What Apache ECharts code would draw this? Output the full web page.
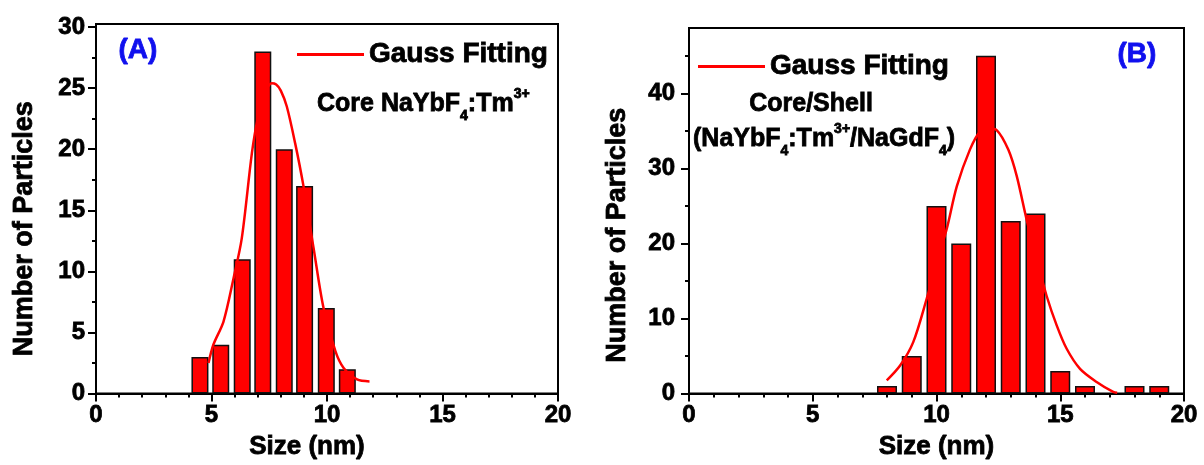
<!DOCTYPE html>
<html>
<head>
<meta charset="utf-8">
<script src="https://cdn.jsdelivr.net/npm/echarts@6/dist/echarts.min.js"></script>
<style>
  html, body { margin: 0; padding: 0; background: #fff; }
  #chart { width: 1204px; height: 465px; }
</style>
</head>
<body>
<div id="chart"></div>
<script>
// (A) core particles: bin centres (nm) and counts
var sizeA = [4.5, 5.4, 6.33, 7.22, 8.15, 9.03, 9.97, 10.88];
var countA = [3, 4, 11, 28, 20, 17, 7, 2];
// gauss fit curve
var fitA = [[4.87, 2.5], [5.08, 4.0], [5.52, 5.9], [5.95, 9.4], [6.31, 12.7], [6.75, 19.7],
  [7.0, 22.5], [7.3, 24.5], [7.6, 25.4], [7.8, 25.3], [8.0, 24.8], [8.26, 23.5], [8.62, 20.5],
  [8.98, 17], [9.42, 11.9], [9.85, 7], [10.36, 3.5], [10.72, 2.1], [11.3, 1.16], [11.84, 1.0]];

// (B) core/shell particles
var sizeB = [8, 9, 10, 11, 12, 13, 14, 15, 16, 18, 19];
var countB = [1, 5, 25, 20, 45, 23, 24, 3, 1, 1, 1];
var fitB = [[7.99, 1.77], [8.53, 3.75], [9.06, 6.86], [9.6, 12.6], [10.01, 17.5], [10.41, 21.9],
  [10.82, 27.6], [11.35, 32.5], [11.76, 34.9], [12.1, 35.3], [12.43, 35.1], [12.9, 32.5],
  [13.24, 29], [13.64, 23.2], [14.05, 17.9], [14.45, 13], [14.86, 9.06], [15.26, 5.97],
  [15.8, 3.3], [16.47, 1.55], [17.14, 0.22], [17.3, 0.1]];

// tick labels
var xTicks = [0, 5, 10, 15, 20];
var yTicksA = [0, 5, 10, 15, 20, 25, 30];
var yMinorA = [2.5, 7.5, 12.5, 17.5, 22.5, 27.5];
var yTicksB = [0, 10, 20, 30, 40];
var yMinorB = [5, 15, 25, 35, 45];

var FONT = "'Liberation Sans', Arial, sans-serif";
var RED = '#ff0000';
var BLUE = '#1010ee';

// heavy bold text for components (thin outline in the same colour)
function bold(size, color) {
  var c = color || '#000';
  return { fontFamily: FONT, fontWeight: 'bold', fontSize: size, color: c,
    textBorderColor: c, textBorderWidth: 0.8 };
}
// same look for graphic text (zrender style names)
function gbold(size, color) {
  var c = color || '#000';
  return { fontFamily: FONT, fontWeight: 'bold', fontSize: size, fill: c, stroke: c, lineWidth: 0.8 };
}

function pair(xs, ys) {
  var out = [];
  for (var i = 0; i < xs.length; i++) out.push([xs[i], ys[i]]);
  return out;
}

function xAxisFor(grid, namePad) {
  return {
    type: 'value', gridIndex: grid, min: 0, max: 20, interval: 5,
    name: 'Size (nm)', nameLocation: 'middle', nameGap: 40,
    nameTextStyle: Object.assign(bold(26), { padding: namePad }),
    axisLine: { lineStyle: { color: '#000', width: 2 } },
    axisTick: { length: 8, lineStyle: { color: '#000', width: 2 } },
    minorTick: { show: true, splitNumber: 5, length: 4, lineStyle: { color: '#000', width: 2 } },
    axisLabel: Object.assign(bold(24), { margin: 10, customValues: xTicks }),
    splitLine: { show: false }
  };
}

function yAxisFor(grid, max, ticks, namePad, margin) {
  return {
    type: 'value', gridIndex: grid, min: 0, max: max,
    name: 'Number of Particles', nameLocation: 'middle', nameGap: 58,
    nameTextStyle: Object.assign(bold(27), { padding: namePad }),
    axisLine: { lineStyle: { color: '#000', width: 2 } },
    axisTick: { length: 8, customValues: ticks, lineStyle: { color: '#000', width: 2 } },
    axisLabel: Object.assign(bold(24), { margin: margin, customValues: ticks }),
    splitLine: { show: false }
  };
}

function minorYAxis(grid, max, ticks) {
  return {
    type: 'value', gridIndex: grid, min: 0, max: max, position: 'left', offset: 0,
    axisLine: { show: false },
    axisTick: { length: 4, customValues: ticks, lineStyle: { color: '#000', width: 2 } },
    axisLabel: { show: false },
    splitLine: { show: false }
  };
}

var rich = {
  n: Object.assign(gbold(25), { verticalAlign: 'top', padding: [8, 0, 0, 0] }),
  sub: Object.assign(gbold(14), { verticalAlign: 'top', padding: [25, 0, 0, 0] }),
  sup: Object.assign(gbold(14), { verticalAlign: 'top', padding: [3, 0, 0, 0] })
};

var myChart = echarts.init(document.getElementById('chart'));
var option = {
  animation: false,
  backgroundColor: '#fff',
  grid: [
    { left: 96, top: 24, width: 462, height: 372, show: true, borderColor: '#000', borderWidth: 2 },
    { left: 689, top: 28, width: 495, height: 367, show: true, borderColor: '#000', borderWidth: 2 }
  ],
  legend: [
    { left: 292, top: 35, data: ['Gauss Fitting'], icon: 'rect', itemWidth: 67, itemHeight: 3,
      selectedMode: false, textStyle: bold(28) },
    { left: 693, top: 47, data: ['Gauss Fitting'], icon: 'rect', itemWidth: 67, itemHeight: 3,
      selectedMode: false, textStyle: bold(28) }
  ],
  xAxis: [xAxisFor(0, [0, 40, 0, 0]), xAxisFor(1, [0, 0, 0, 0])],
  yAxis: [
    yAxisFor(0, 30.25, yTicksA, [0, 40, 0, 0], 11),
    minorYAxis(0, 30.25, yMinorA),
    yAxisFor(1, 48.7, yTicksB, [0, 49, 0, 0], 14),
    minorYAxis(1, 48.7, yMinorB)
  ],
  graphic: [
    { type: 'text', left: 118, top: 36, style: Object.assign(gbold(28, BLUE), { text: '(A)' }) },
    { type: 'text', left: 1117, top: 40, style: Object.assign(gbold(28, BLUE), { text: '(B)' }) },
    { type: 'text', x: 317, y: 84, style: {
        text: '{n|Core NaYbF}{sub|4}{n|:Tm}{sup|3+}', rich: rich, verticalAlign: 'top' } },
    { type: 'text', x: 811, y: 104, style: Object.assign(gbold(25), {
        text: 'Core/Shell', align: 'center', verticalAlign: 'middle' }) },
    { type: 'text', x: 693, y: 119, style: {
        text: '{n|(NaYbF}{sub|4}{n|:Tm}{sup|3+}{n|/NaGdF}{sub|4}{n|)}', rich: rich, verticalAlign: 'top' } }
  ],
  series: [
    { type: 'bar', name: 'countA', xAxisIndex: 0, yAxisIndex: 0, data: pair(sizeA, countA),
      barWidth: 17, itemStyle: { color: RED, borderColor: '#111', borderWidth: 1.5 } },
    { type: 'line', name: 'Gauss Fitting', xAxisIndex: 0, yAxisIndex: 0, data: fitA, z: 5,
      smooth: 0.3, showSymbol: false, color: RED, lineStyle: { color: RED, width: 2.5 } },
    { type: 'bar', name: 'countB', xAxisIndex: 1, yAxisIndex: 2, data: pair(sizeB, countB),
      barWidth: 20, itemStyle: { color: RED, borderColor: '#111', borderWidth: 1.5 } },
    { type: 'line', name: 'Gauss Fitting', xAxisIndex: 1, yAxisIndex: 2, data: fitB, z: 5,
      smooth: 0.3, showSymbol: false, color: RED, lineStyle: { color: RED, width: 2.5 } }
  ]
};
myChart.setOption(option);
window.addEventListener('resize', function () {
  myChart.resize();
});
</script>
</body>
</html>
